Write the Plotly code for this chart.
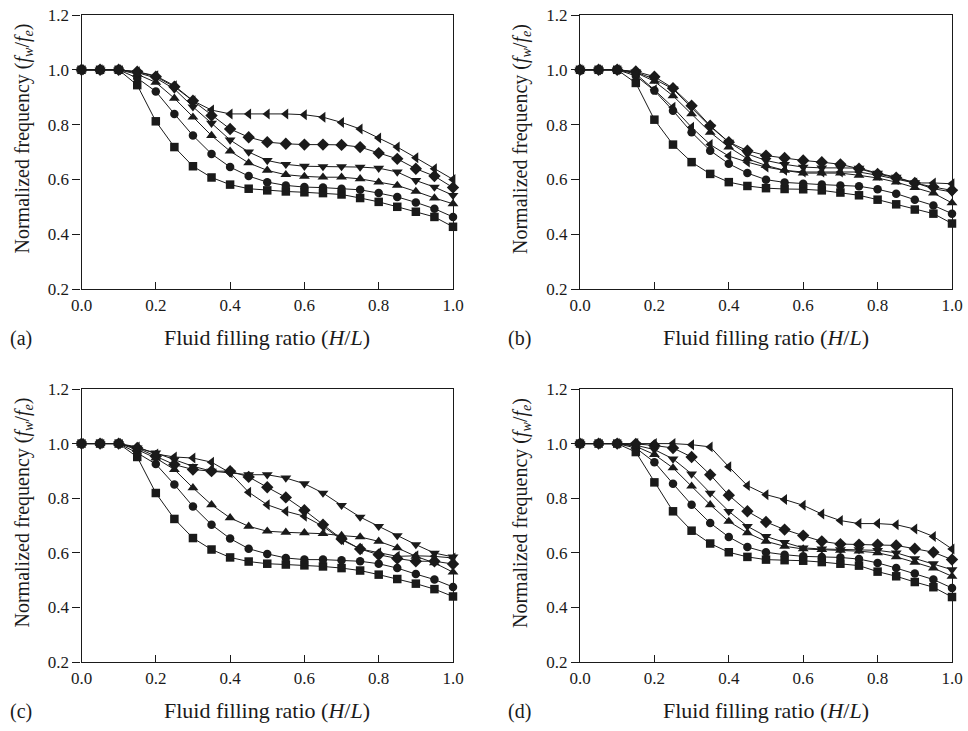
import plotly.graph_objects as go

W, H = 968, 731

x_ratio = [0.0, 0.05, 0.10, 0.15, 0.20, 0.25, 0.30, 0.35, 0.40, 0.45, 0.50,
           0.55, 0.60, 0.65, 0.70, 0.75, 0.80, 0.85, 0.90, 0.95, 1.00]

symbols = ["square", "circle", "triangle-up", "triangle-down", "diamond", "triangle-left"]

# Panel (a)
a_square = [1.0, 1.0, 1.0, 0.944, 0.812, 0.718, 0.648, 0.607, 0.581, 0.566, 0.560,
            0.556, 0.553, 0.550, 0.545, 0.532, 0.518, 0.500, 0.482, 0.463, 0.427]
a_circle = [1.0, 1.0, 1.0, 0.970, 0.921, 0.839, 0.760, 0.693, 0.645, 0.612, 0.590,
            0.578, 0.572, 0.570, 0.566, 0.562, 0.550, 0.536, 0.516, 0.493, 0.463]
a_tri_up = [1.0, 1.0, 1.0, 0.984, 0.954, 0.896, 0.827, 0.760, 0.703, 0.660, 0.633,
            0.617, 0.611, 0.608, 0.608, 0.602, 0.590, 0.578, 0.556, 0.532, 0.511]
a_tri_down = [1.0, 1.0, 1.0, 0.990, 0.970, 0.930, 0.865, 0.805, 0.744, 0.700, 0.669,
              0.655, 0.648, 0.647, 0.647, 0.645, 0.641, 0.627, 0.596, 0.572, 0.542]
a_diamond = [1.0, 1.0, 1.0, 0.993, 0.975, 0.938, 0.887, 0.833, 0.784, 0.754, 0.736,
             0.730, 0.727, 0.727, 0.726, 0.718, 0.696, 0.675, 0.639, 0.612, 0.570]
a_tri_left = [1.0, 1.0, 1.0, 0.993, 0.978, 0.942, 0.887, 0.853, 0.839, 0.839, 0.839,
              0.839, 0.836, 0.827, 0.808, 0.784, 0.751, 0.718, 0.679, 0.639, 0.600]

# Panel (b)
b_square = [1.0, 1.0, 1.0, 0.952, 0.818, 0.727, 0.663, 0.620, 0.590, 0.576, 0.568,
            0.565, 0.564, 0.560, 0.552, 0.542, 0.526, 0.509, 0.490, 0.475, 0.439]
b_circle = [1.0, 1.0, 1.0, 0.978, 0.924, 0.851, 0.772, 0.705, 0.657, 0.623, 0.599,
            0.589, 0.584, 0.581, 0.578, 0.575, 0.564, 0.548, 0.526, 0.505, 0.475]
b_tri_up = [1.0, 1.0, 1.0, 0.990, 0.958, 0.905, 0.839, 0.772, 0.718, 0.675, 0.651,
            0.633, 0.623, 0.623, 0.623, 0.615, 0.605, 0.590, 0.570, 0.550, 0.514]
b_tri_down = [1.0, 1.0, 1.0, 0.992, 0.966, 0.930, 0.863, 0.793, 0.736, 0.693, 0.669,
              0.655, 0.645, 0.642, 0.642, 0.641, 0.623, 0.608, 0.588, 0.566, 0.554]
b_diamond = [1.0, 1.0, 1.0, 0.994, 0.975, 0.933, 0.869, 0.796, 0.736, 0.705, 0.687,
             0.678, 0.669, 0.663, 0.655, 0.639, 0.620, 0.606, 0.587, 0.572, 0.560]
b_tri_left = [1.0, 1.0, 1.0, 0.985, 0.927, 0.863, 0.790, 0.727, 0.685, 0.663, 0.645,
              0.633, 0.627, 0.627, 0.627, 0.627, 0.615, 0.600, 0.587, 0.587, 0.584]

# Panel (c)
c_square = [1.0, 1.0, 1.0, 0.951, 0.819, 0.724, 0.654, 0.612, 0.583, 0.568, 0.560,
            0.557, 0.554, 0.550, 0.544, 0.535, 0.520, 0.504, 0.487, 0.467, 0.440]
c_circle = [1.0, 1.0, 1.0, 0.966, 0.925, 0.850, 0.770, 0.703, 0.652, 0.615, 0.596,
            0.581, 0.575, 0.575, 0.573, 0.569, 0.560, 0.544, 0.522, 0.502, 0.475]
c_tri_up = [1.0, 1.0, 1.0, 0.978, 0.947, 0.905, 0.838, 0.776, 0.728, 0.697, 0.679,
            0.675, 0.673, 0.670, 0.663, 0.658, 0.642, 0.618, 0.587, 0.563, 0.529]
c_tri_down = [1.0, 1.0, 1.0, 0.984, 0.966, 0.941, 0.917, 0.899, 0.893, 0.886, 0.886,
              0.874, 0.853, 0.819, 0.774, 0.731, 0.697, 0.663, 0.630, 0.599, 0.585]
c_diamond = [1.0, 1.0, 1.0, 0.984, 0.954, 0.923, 0.905, 0.899, 0.899, 0.878, 0.840,
             0.803, 0.756, 0.703, 0.651, 0.614, 0.593, 0.579, 0.569, 0.569, 0.559]
c_tri_left = [1.0, 1.0, 1.0, 0.988, 0.962, 0.951, 0.947, 0.932, 0.893, 0.822, 0.776,
              0.752, 0.734, 0.697, 0.648, 0.614, 0.600, 0.587, 0.589, 0.587, 0.581]

# Panel (d)
d_square = [1.0, 1.0, 1.0, 0.969, 0.858, 0.752, 0.681, 0.634, 0.602, 0.585, 0.575,
            0.573, 0.571, 0.566, 0.560, 0.553, 0.531, 0.514, 0.493, 0.474, 0.438]
d_circle = [1.0, 1.0, 1.0, 0.984, 0.932, 0.853, 0.776, 0.709, 0.658, 0.621, 0.602,
            0.593, 0.587, 0.585, 0.583, 0.577, 0.563, 0.544, 0.524, 0.502, 0.471]
d_tri_up = [1.0, 1.0, 1.0, 0.990, 0.960, 0.911, 0.844, 0.776, 0.715, 0.673, 0.642,
            0.624, 0.614, 0.612, 0.609, 0.606, 0.600, 0.585, 0.565, 0.544, 0.514]
d_tri_down = [1.0, 1.0, 1.0, 0.994, 0.978, 0.944, 0.889, 0.819, 0.752, 0.697, 0.660,
              0.638, 0.618, 0.614, 0.612, 0.612, 0.609, 0.600, 0.579, 0.560, 0.538]
d_diamond = [1.0, 1.0, 1.0, 0.999, 0.993, 0.984, 0.951, 0.886, 0.811, 0.752, 0.713,
             0.685, 0.663, 0.642, 0.632, 0.630, 0.630, 0.627, 0.615, 0.602, 0.575]
d_tri_left = [1.0, 1.0, 1.0, 1.0, 1.0, 1.0, 0.996, 0.988, 0.915, 0.846, 0.813,
              0.795, 0.774, 0.742, 0.718, 0.707, 0.707, 0.703, 0.687, 0.660, 0.614]

panels = [
    ("(a)", [a_square, a_circle, a_tri_up, a_tri_down, a_diamond, a_tri_left]),
    ("(b)", [b_square, b_circle, b_tri_up, b_tri_down, b_diamond, b_tri_left]),
    ("(c)", [c_square, c_circle, c_tri_up, c_tri_down, c_diamond, c_tri_left]),
    ("(d)", [d_square, d_circle, d_tri_up, d_tri_down, d_diamond, d_tri_left]),
]

x_ticks = [0.0, 0.2, 0.4, 0.6, 0.8, 1.0]
y_ticks = [0.2, 0.4, 0.6, 0.8, 1.0, 1.2]

# pixel layout of the four plot areas: (left, right, top, bottom)
boxes = [(81.5, 453, 15, 289), (580, 952, 15, 289),
         (81.5, 453, 389, 662), (580, 952, 389, 662)]


def px(xp):
    return xp / W


def py(yp):
    return 1 - yp / H


FONT = "Liberation Serif"
fig = go.Figure()
layout = dict(width=W, height=H, margin=dict(l=0, r=0, t=0, b=0, autoexpand=False),
              paper_bgcolor="white", plot_bgcolor="white", showlegend=False,
              font=dict(family=FONT, color="#1a1a1a", size=17))
annotations = []
marker_sizes = {"square": 8.5, "circle": 8.5, "triangle-up": 9.5, "triangle-down": 9.5,
                "diamond": 9.5, "triangle-left": 9.5}

for i, ((label, series), (l, r, t, b)) in enumerate(zip(panels, boxes)):
    n = "" if i == 0 else str(i + 1)
    xa, ya = "x" + n, "y" + n
    for sym, vals in zip(symbols, series):
        fig.add_trace(go.Scatter(
            x=x_ratio, y=vals, xaxis=xa, yaxis=ya, mode="lines+markers",
            line=dict(color="#1a1a1a", width=1),
            marker=dict(symbol=sym, size=marker_sizes[sym], color="#1a1a1a",
                        line=dict(width=0)),
            cliponaxis=False))
    layout["xaxis" + n] = dict(
        domain=[px(l), px(r)], anchor=ya, range=[0, 1.0], tickvals=x_ticks,
        ticktext=[f"{v:.1f}" for v in x_ticks], ticks="inside", ticklen=7,
        tickcolor="#1a1a1a", showline=True, linecolor="#1a1a1a", linewidth=1.2,
        mirror=True, showgrid=False, zeroline=False, automargin=False,
        ticklabeloverflow="allow", tickfont=dict(size=17, family=FONT))
    layout["yaxis" + n] = dict(
        domain=[py(b), py(t)], anchor=xa, range=[0.2, 1.2], tickvals=y_ticks,
        ticktext=[f"{v:.1f}" for v in y_ticks], ticks="outside", ticklen=8,
        tickcolor="#1a1a1a", showline=True, linecolor="#1a1a1a", linewidth=1.2,
        mirror=True, showgrid=False, zeroline=False, automargin=False,
        ticklabeloverflow="allow", tickfont=dict(size=17, family=FONT))
    # axis titles and panel label
    annotations.append(dict(
        x=px((l + r) / 2), y=py(b + 48), xref="paper", yref="paper",
        text="Fluid filling ratio (<i>H</i>/<i>L</i>)", showarrow=False,
        xanchor="center", yanchor="middle", font=dict(size=22, family=FONT)))
    annotations.append(dict(
        x=px(l - 59), y=py(t + 124), xref="paper", yref="paper",
        text="Normalized frequency (<i>f</i><sub><i>w</i></sub>/<i>f</i><sub><i>e</i></sub>)",
        showarrow=False, textangle=-90, xanchor="center", yanchor="middle",
        font=dict(size=20, family=FONT)))
    annotations.append(dict(
        x=px(l - 74), y=py(b + 49), xref="paper", yref="paper",
        text=label, showarrow=False, xanchor="left", yanchor="middle",
        font=dict(size=20, family=FONT)))

layout["annotations"] = annotations
fig.update_layout(**layout)
# remove the browser's default 8px body margin so the figure fills the window
fig.write_html("out.html",
               config={"displayModeBar": False},
               post_script="document.body.style.margin='0px';"
                           "document.body.style.overflow='hidden';")
